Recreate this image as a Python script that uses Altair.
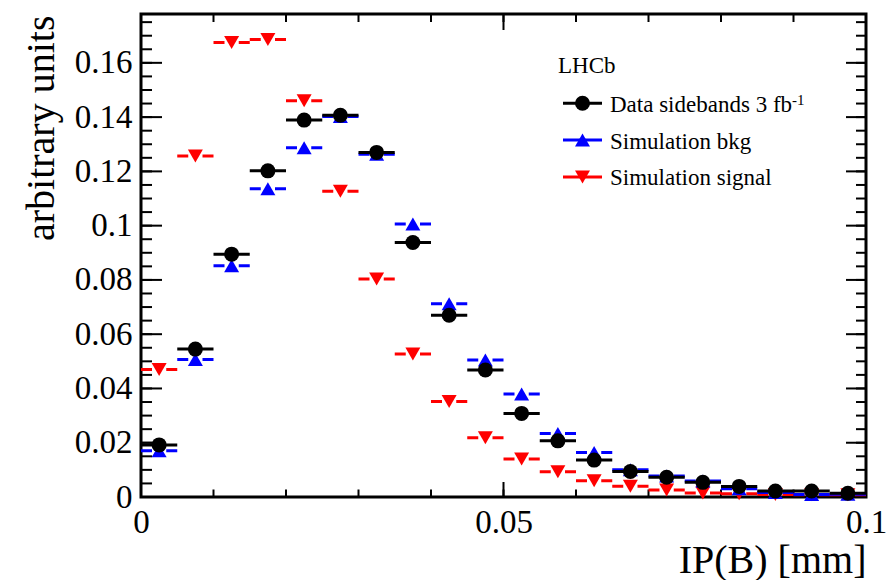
import altair as alt
import pandas as pd

# ---- data ----
bin_edges = [round(i * 0.005, 4) for i in range(21)]
data_sidebands = [0.0192, 0.0545, 0.0895, 0.1202, 0.1389, 0.1407, 0.1270, 0.0938, 0.0670, 0.0468,
                  0.0308, 0.0207, 0.0136, 0.0094, 0.0073, 0.0054, 0.0039, 0.0022, 0.0022, 0.0014]
sim_bkg = [0.0170, 0.0507, 0.0852, 0.1136, 0.1287, 0.1402, 0.1263, 0.1006, 0.0712, 0.0505,
           0.0380, 0.0234, 0.0164, 0.0100, 0.0077, 0.0059, 0.0030, 0.0017, 0.0009, 0.0010]
sim_signal = [0.0470, 0.1257, 0.1675, 0.1686, 0.1460, 0.1127, 0.0803, 0.0527, 0.0352, 0.0218,
              0.0140, 0.0093, 0.0060, 0.0040, 0.0026, 0.0015, 0.0012, 0.0009, 0.0008, 0.0008]

x_major_ticks = [0.0, 0.05, 0.1]
x_minor_ticks = [round(i * 0.01, 3) for i in range(11)]
y_major_ticks = [0.0, 0.02, 0.04, 0.06, 0.08, 0.1, 0.12, 0.14, 0.16]
y_minor_ticks = [round(i * 0.005, 4) for i in range(36)]

legend_labels = ["Data sidebands 3 fb", "Simulation bkg", "Simulation signal"]

FONT = "Liberation Serif"
W, H = 725, 483

xscale = alt.Scale(domain=[0, 0.1], nice=False, zero=False)
yscale = alt.Scale(domain=[0, 0.178], nice=False, zero=False)

xaxis = alt.Axis(values=x_major_ticks, format="~g", ticks=False, domain=False, grid=False,
                 labelFont=FONT, labelFontSize=33, labelColor="black", labelPadding=9,
                 labelFlush=False, labelOverlap=False,
                 title="IP(B) [mm]", titleFont=FONT, titleFontSize=40, titleFontWeight="normal",
                 titleColor="black", titleX=W, titleY=75, titleAlign="right",
                 titleBaseline="alphabetic")
yaxis = alt.Axis(values=y_major_ticks, format="~g", ticks=False, domain=False, grid=False,
                 labelFont=FONT, labelFontSize=33, labelColor="black", labelPadding=9,
                 labelOverlap=False, labelFlush=False,
                 title="arbitrary units", titleFont=FONT, titleFontSize=40,
                 titleFontWeight="normal", titleColor="black", titleAngle=270,
                 titleX=-88, titleY=1, titleAlign="right", titleBaseline="alphabetic")


def series_df(vals):
    return pd.DataFrame({
        "lo": bin_edges[:-1],
        "hi": bin_edges[1:],
        "c": [(a + b) / 2 for a, b in zip(bin_edges[:-1], bin_edges[1:])],
        "v": vals,
    })


X = lambda f: alt.X(f, type="quantitative", scale=xscale, axis=xaxis)
Y = lambda f: alt.Y(f, type="quantitative", scale=yscale, axis=yaxis)

layers = []

# inner ticks
ydf_maj = pd.DataFrame({"t": y_major_ticks})
ydf_min = pd.DataFrame({"t": y_minor_ticks})
xdf_maj = pd.DataFrame({"t": x_major_ticks})
xdf_min = pd.DataFrame({"t": x_minor_ticks})
tick = dict(color="black", strokeWidth=2)
layers += [
    alt.Chart(ydf_min).mark_rule(**tick).encode(y=Y("t"), x=alt.value(0), x2=alt.value(11)),
    alt.Chart(ydf_maj).mark_rule(**tick).encode(y=Y("t"), x=alt.value(0), x2=alt.value(21)),
    alt.Chart(ydf_min).mark_rule(**tick).encode(y=Y("t"), x=alt.value(W), x2=alt.value(W - 10)),
    alt.Chart(ydf_maj).mark_rule(**tick).encode(y=Y("t"), x=alt.value(W), x2=alt.value(W - 20)),
    alt.Chart(xdf_min).mark_rule(**tick).encode(x=X("t"), y=alt.value(H), y2=alt.value(H - 7.5)),
    alt.Chart(xdf_maj).mark_rule(**tick).encode(x=X("t"), y=alt.value(H), y2=alt.value(H - 15)),
    alt.Chart(xdf_min).mark_rule(**tick).encode(x=X("t"), y=alt.value(0), y2=alt.value(8)),
    alt.Chart(xdf_maj).mark_rule(**tick).encode(x=X("t"), y=alt.value(0), y2=alt.value(16)),
]

series = [
    (sim_signal, "#ff0000", "triangle-down", [11, 14.25]),
    (sim_bkg, "#0000ff", "triangle-up", [11, 14.25]),
    (data_sidebands, "#000000", "circle", None),
]
for vals, col, shape, dash in series:
    df = series_df(vals)
    rule_kw = dict(color=col, strokeWidth=3, strokeCap="butt")
    if dash:
        rule_kw["strokeDash"] = dash
    layers.append(alt.Chart(df).mark_rule(**rule_kw).encode(x=X("lo"), x2="hi", y=Y("v")))
    layers.append(alt.Chart(df).mark_point(shape=shape, filled=True, size=225, color=col,
                                           opacity=1, strokeWidth=0)
                  .encode(x=X("c"), y=Y("v")))

# legend (decoration, pixel-placed)
leg_df = pd.DataFrame({"label": ["x"]})
layers.append(alt.Chart(leg_df).mark_text(text="LHCb", font=FONT, fontSize=23, align="left",
                                          baseline="alphabetic", color="black")
              .encode(x=alt.value(417), y=alt.value(59.3)))
leg_cols = ["#000000", "#0000ff", "#ff0000"]
leg_shapes = ["circle", "triangle-up", "triangle-down"]
leg_sym_y = [89.3, 126, 163]
leg_txt_y = [98, 134.5, 171]
for lab, col, shp, sy, ty in zip(legend_labels, leg_cols, leg_shapes, leg_sym_y, leg_txt_y):
    layers.append(alt.Chart(leg_df).mark_rule(color=col, strokeWidth=3)
                  .encode(x=alt.value(422), x2=alt.value(461), y=alt.value(sy)))
    layers.append(alt.Chart(leg_df).mark_point(shape=shp, filled=True, size=225, color=col,
                                               opacity=1, strokeWidth=0)
                  .encode(x=alt.value(441.5), y=alt.value(sy)))
    layers.append(alt.Chart(leg_df).mark_text(text=lab, font=FONT, fontSize=23, align="left",
                                              baseline="alphabetic", color="black")
                  .encode(x=alt.value(469), y=alt.value(ty)))
layers.append(alt.Chart(leg_df).mark_text(text="-1", font=FONT, fontSize=15, align="left",
                                          baseline="alphabetic", color="black")
              .encode(x=alt.value(651), y=alt.value(91)))

chart = alt.layer(*layers).properties(
    width=W, height=H,
    padding={"left": 141, "top": 14, "right": 28, "bottom": 83},
    autosize=alt.AutoSizeParams(type="none"),
    background="white",
).configure_view(stroke="black", strokeWidth=3)

chart.save("out.html", embed_options={"renderer": "svg", "actions": False})
